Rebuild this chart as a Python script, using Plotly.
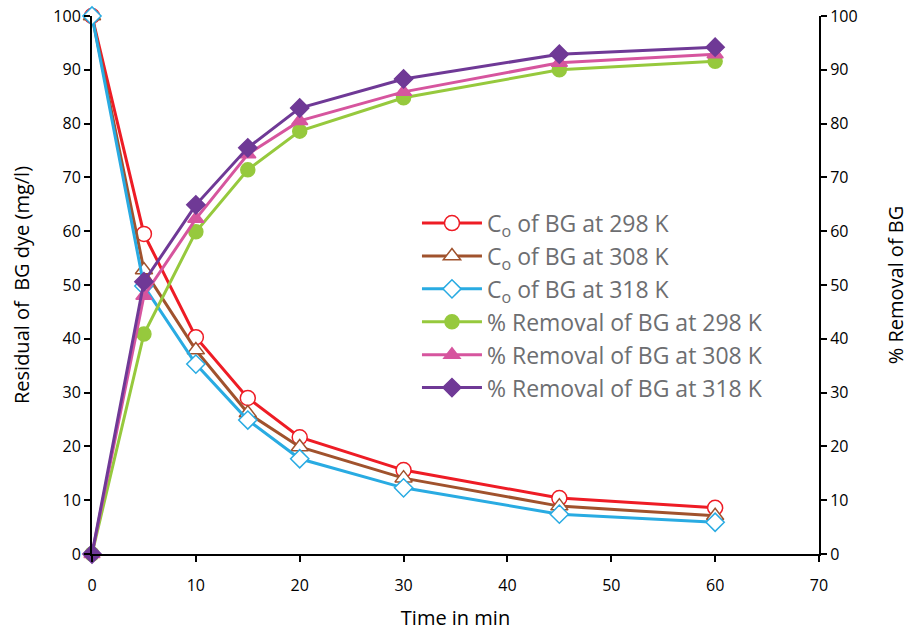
import plotly.graph_objects as go

time_min = [0, 5, 10, 15, 20, 30, 45, 60]
c0_298 = [100, 59.5, 40.3, 29.0, 21.7, 15.6, 10.4, 8.6]
c0_308 = [100, 52.8, 37.9, 26.2, 19.9, 14.1, 8.9, 7.1]
c0_318 = [100, 49.8, 35.3, 24.9, 17.7, 12.3, 7.4, 5.9]
rem_298 = [0, 40.9, 59.9, 71.4, 78.6, 84.8, 90.0, 91.6]
rem_308 = [0, 48.0, 62.3, 74.3, 80.5, 85.9, 91.3, 92.9]
rem_318 = [0, 50.6, 64.9, 75.5, 82.9, 88.3, 92.9, 94.2]

fig = go.Figure()

def add(y, name, color, symbol, fill, yaxis="y", size=14):
    fig.add_trace(go.Scatter(
        x=time_min, y=y, name=name, mode="lines+markers", yaxis=yaxis,
        line=dict(color=color, width=3),
        marker=dict(symbol=symbol, size=size, color=fill,
                    line=dict(color=color, width=1.5)),
        cliponaxis=False,
    ))

add(c0_298, "C<sub>o</sub> of BG at 298 K", "#ee1c25", "circle", "white", size=15)
add(c0_308, "C<sub>o</sub> of BG at 308 K", "#a0522d", "triangle-up", "white", size=15)
add(c0_318, "C<sub>o</sub> of BG at 318 K", "#29abe2", "diamond", "white", size=14)
add(rem_298, "% Removal of BG at 298 K", "#96c93d", "circle", "#96c93d", "y2", size=14)
add(rem_308, "% Removal of BG at 308 K", "#d6559e", "triangle-up", "#d6559e", "y2", size=14)
add(rem_318, "% Removal of BG at 318 K", "#6f3996", "diamond", "#6f3996", "y2", size=14)

FONT = "Open Sans, Liberation Sans, sans-serif"
axis_font = dict(family=FONT, size=16, color="black")
title_font = dict(family=FONT, size=20, color="black")

common = dict(showgrid=False, zeroline=False, showline=True, linecolor="black",
              linewidth=2, ticks="outside", ticklen=6, tickwidth=2,
              tickcolor="black", tickfont=axis_font, automargin=False)

fig.update_layout(
    width=911, height=635,
    margin=dict(l=92, r=92, t=16, b=81),
    plot_bgcolor="white", paper_bgcolor="white",
    showlegend=True,
    legend=dict(x=0.447, y=0.655, xanchor="left", yanchor="top",
                font=dict(family=FONT, size=23, color="#6d6e71"),
                bgcolor="rgba(0,0,0,0)", tracegroupgap=0, itemwidth=60),
    xaxis=dict(range=[0, 70], dtick=10, ticklabelstandoff=10,
               title=dict(text="Time in min", font=title_font, standoff=16),
               **common),
    yaxis=dict(range=[0, 100], dtick=10,
               title=dict(text="Residual of  BG dye (mg/l)", font=title_font, standoff=18),
               **common),
    yaxis2=dict(range=[0, 100], dtick=10, overlaying="y", side="right",
                title=dict(text="% Removal of BG", font=title_font, standoff=32),
                **common),
)

fig.write_html("out.html")
